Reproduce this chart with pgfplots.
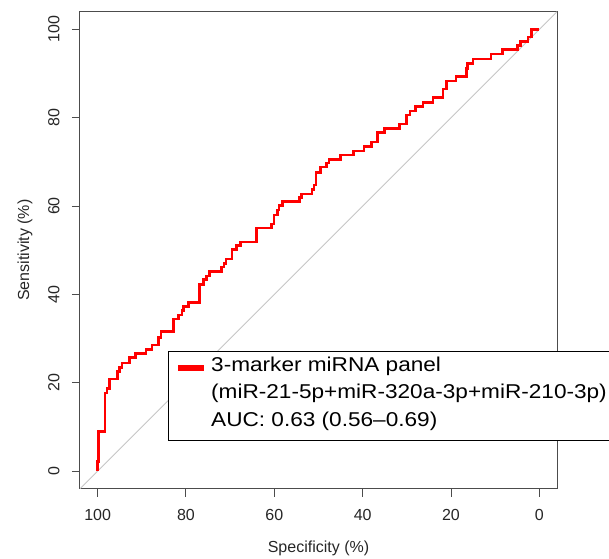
\documentclass[border=0pt]{standalone}
\usepackage{fontspec}
\setmainfont{Liberation Sans}
\newfontfamily\legfont{Liberation Sans}[FakeStretch=1.13]
\usepackage{pgfplots}
\pgfplotsset{compat=1.18}

\begin{document}
\begin{tikzpicture}
\begin{axis}[
    width=477pt, height=477pt, scale only axis,
    xmin=-4, xmax=104, ymin=-4, ymax=104,
    x dir=reverse,
    xtick={0,20,40,60,80,100},
    ytick={0,20,40,60,80,100},
    xtick pos=left, ytick pos=left,
    tick align=outside,
    major tick length=8pt,
    axis line style={black!70, line width=1pt},
    tick style={black!70, line width=1pt},
    /pgf/number format/assume math mode=true,
    ticklabel style={font=\fontsize{16}{19}\selectfont, text=black!85},
    xticklabel style={yshift=-9pt},
    yticklabel style={rotate=90, anchor=south, yshift=9pt},
    xlabel={Specificity (\%)},
    ylabel={Sensitivity (\%)},
    label style={font=\fontsize{16}{19}\selectfont, text=black!85},
    xlabel style={at={(axis description cs:0.5,0)}, anchor=center, yshift=-59.3pt},
    ylabel style={at={(axis description cs:0,0.5)}, anchor=center, yshift=55pt},
    legend style={
        at={(axis description cs:0.1845,0.2887)}, anchor=north west,
        draw=black, line width=1pt, fill=white,
        font=\legfont\fontsize{20}{27.5}\selectfont,
        inner xsep=7pt, inner ysep=5.5pt,
        column sep=3.7pt,
        nodes={align=left, inner sep=0pt},
    },
    legend cell align=left,
    clip=true,
]

% chance diagonal
\addplot[gray!45, line width=0.9pt, forget plot] coordinates {(104,-4) (-4,104)};

% ROC curve
\addplot[red, line width=2.6pt, line join=miter,
    legend image code/.code={
        \path[draw=none, fill=none] (0pt,-31.1pt) rectangle (26pt,31.1pt);
        \draw[red, line width=6pt, line cap=butt] (0pt,28.1pt) -- (26pt,28.1pt);}
] coordinates {
(100,0) (100,2.1) (99.8,2.1) (99.8,8.9) (98.3,8.9) (98.3,17.7)
(97.9,17.7) (97.9,18.7) (97.3,18.7) (97.3,20.8) (95.5,20.8) (95.5,22.5)
(95.1,22.5) (95.1,23.5) (94.5,23.5) (94.5,24.5) (92.8,24.5) (92.8,25.7)
(91.5,25.7) (91.5,26.6) (89.1,26.6) (89.1,27.5) (87.7,27.5) (87.7,28.5)
(86.2,28.5) (86.2,30.3) (85.7,30.3) (85.7,31.6) (82.8,31.6) (82.8,34.4)
(81.7,34.4) (81.7,35.3) (80.9,35.3) (80.9,36.3) (80.6,36.3) (80.6,37.2)
(79.4,37.2) (79.4,38.2) (77.0,38.2) (77.0,42.3) (76.0,42.3) (76.0,43.3)
(75.4,43.3) (75.4,44.2) (74.7,44.2) (74.7,45.2) (71.9,45.2) (71.9,46.2)
(71.4,46.2) (71.4,47.0) (70.9,47.0) (70.9,48.0) (69.6,48.0) (69.6,50.1)
(68.5,50.1) (68.5,51.0) (67.7,51.0) (67.7,51.9) (64.1,51.9) (64.1,55.0)
(60.6,55.0) (60.6,55.9) (60.1,55.9) (60.1,58.0) (59.3,58.0) (59.3,59.1)
(58.9,59.1) (58.9,60.1) (58.1,60.1) (58.1,61.0) (54.3,61.0) (54.3,61.9)
(53.8,61.9) (53.8,62.7) (51.5,62.7) (51.5,63.8) (51.0,63.8) (51.0,64.8)
(50.6,64.8) (50.6,67.6) (49.5,67.6) (49.5,68.8) (48.2,68.8) (48.2,69.7)
(47.6,69.7) (47.6,70.6) (45.0,70.6) (45.0,71.6) (42.1,71.6) (42.1,72.5)
(39.7,72.5) (39.7,73.5) (38.0,73.5) (38.0,74.5) (36.7,74.5) (36.7,76.6)
(35.0,76.6) (35.0,77.6) (31.6,77.6) (31.6,78.6) (30.1,78.6) (30.1,80.6)
(29.3,80.6) (29.3,81.5) (28.0,81.5) (28.0,82.5) (26.3,82.5) (26.3,83.5)
(24.1,83.5) (24.1,84.6) (21.8,84.6) (21.8,86.5) (21.0,86.5) (21.0,88.3)
(18.9,88.3) (18.9,89.3) (16.5,89.3) (16.5,91.2) (16.2,91.2) (16.2,92.3)
(15.0,92.3) (15.0,93.3) (10.9,93.3) (10.9,94.4) (8.4,94.4) (8.4,95.4)
(4.9,95.4) (4.9,96.3) (4.3,96.3) (4.3,97.2) (2.6,97.2) (2.6,98.3)
(1.8,98.3) (1.8,100) (0,100)
};
\addlegendentry{3-marker miRNA panel\\(miR-21-5p+miR-320a-3p+miR-210-3p)\\AUC: 0.63 (0.56–0.69)\\[-20.3pt]\mbox{}}

\end{axis}
\pgfresetboundingbox
\path (-80pt,-69.3pt) rectangle (529pt,488.7pt);
\end{tikzpicture}
\end{document}
